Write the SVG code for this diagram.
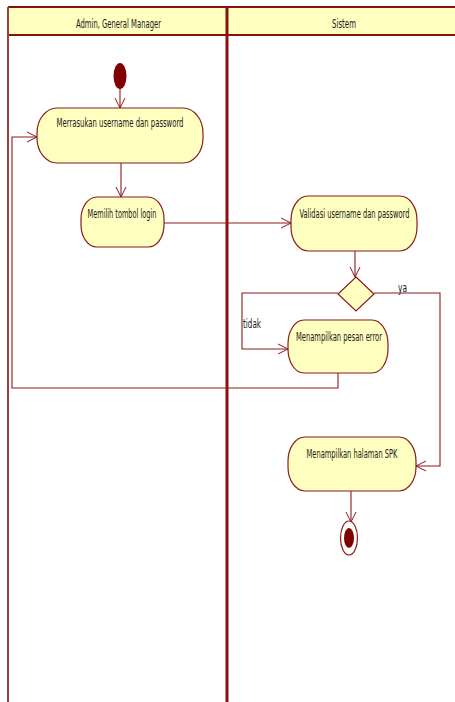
<svg xmlns="http://www.w3.org/2000/svg" width="455" height="702" viewBox="0 0 455 702">
<defs>
<marker id="arr" markerWidth="12" markerHeight="12" refX="10" refY="6" orient="auto" markerUnits="userSpaceOnUse">
<path d="M0,1 L10,6 L0,11" fill="none" stroke="#8B1A1A" stroke-width="1"/>
</marker>
</defs>
<style>
.act{fill:#FFFFC0;stroke:#8B1A1A;stroke-width:1.2}
.txt{font-family:"DejaVu Sans Condensed","Liberation Sans",sans-serif;font-size:12px;fill:#1a1a1a;}
.con{fill:none;stroke:#8B1A1A;stroke-width:1.1}
</style>
<rect width="455" height="702" fill="#fff"/>
<g id="lanes">
<rect x="8" y="7" width="455" height="28" fill="#FFFFC0"/>
<line x1="8" y1="7" x2="455" y2="7" stroke="#8B1010" stroke-width="2"/>
<line x1="8" y1="35" x2="455" y2="35" stroke="#8B1010" stroke-width="2"/>
<line x1="8" y1="7" x2="8" y2="702" stroke="#A04040" stroke-width="2"/>
<line x1="227" y1="7" x2="227" y2="702" stroke="#8B1010" stroke-width="3"/>
<text class="txt" x="118.5" y="28" text-anchor="middle" textLength="85" lengthAdjust="spacingAndGlyphs">Admin, General Manager</text>
<text class="txt" x="344" y="28" text-anchor="middle" textLength="24" lengthAdjust="spacingAndGlyphs">Sistem</text>
</g>
<g id="connectors">
<path class="con" d="M120,89 L120,108" marker-end="url(#arr)"/>
<path class="con" d="M121,163 L121,197" marker-end="url(#arr)"/>
<path class="con" d="M164,223 L291,223" marker-end="url(#arr)"/>
<path class="con" d="M355,251 L355,277" marker-end="url(#arr)"/>
<path class="con" d="M338,293 L242,293 L242,349 L288,349" marker-end="url(#arr)"/>
<path class="con" d="M374,293 L440,293 L440,466 L416,466" marker-end="url(#arr)"/>
<path class="con" d="M338,373 L338,388 L12,388 L12,137 L37,137" marker-end="url(#arr)"/>
<path class="con" d="M351,491 L351,522" marker-end="url(#arr)"/>
<text class="txt" x="243" y="328" textLength="18" lengthAdjust="spacingAndGlyphs">tidak</text>
<text class="txt" x="398" y="292" textLength="9" lengthAdjust="spacingAndGlyphs">ya</text>
</g>
<g id="start">
<ellipse cx="120" cy="76" rx="6.5" ry="13" fill="#800000"/>
</g>
<g id="a1">
<rect class="act" x="37" y="108" width="166" height="55" rx="20" ry="25"/>
<text class="txt" x="120" y="127" text-anchor="middle" textLength="127" lengthAdjust="spacingAndGlyphs">Merrasukan username dan password</text>
</g>
<g id="a2">
<rect class="act" x="81" y="197" width="83" height="50" rx="16" ry="22"/>
<text class="txt" x="122" y="218" text-anchor="middle" textLength="69" lengthAdjust="spacingAndGlyphs">Memilih tombol login</text>
</g>
<g id="a3">
<rect class="act" x="291" y="196" width="126" height="55" rx="17" ry="24"/>
<text class="txt" x="354.5" y="218" text-anchor="middle" textLength="110" lengthAdjust="spacingAndGlyphs">Validasi username dan password</text>
</g>
<g id="decision">
<polygon class="act" points="356,277 374,294 356,311 338,294"/>
</g>
<g id="a4">
<rect class="act" x="288" y="320" width="100" height="53" rx="16" ry="24"/>
<text class="txt" x="339" y="341" text-anchor="middle" textLength="86" lengthAdjust="spacingAndGlyphs">Menampilkan pesan error</text>
</g>
<g id="a5">
<rect class="act" x="288" y="437" width="128" height="54" rx="17" ry="24"/>
<text class="txt" x="352" y="458" text-anchor="middle" textLength="91" lengthAdjust="spacingAndGlyphs">Menampilkan halaman SPK</text>
</g>
<g id="end">
<ellipse cx="349" cy="538" rx="8.5" ry="17" fill="#fff" stroke="#8B1A1A" stroke-width="1.2"/>
<ellipse cx="349" cy="538" rx="5" ry="10" fill="#800000"/>
</g>
</svg>
